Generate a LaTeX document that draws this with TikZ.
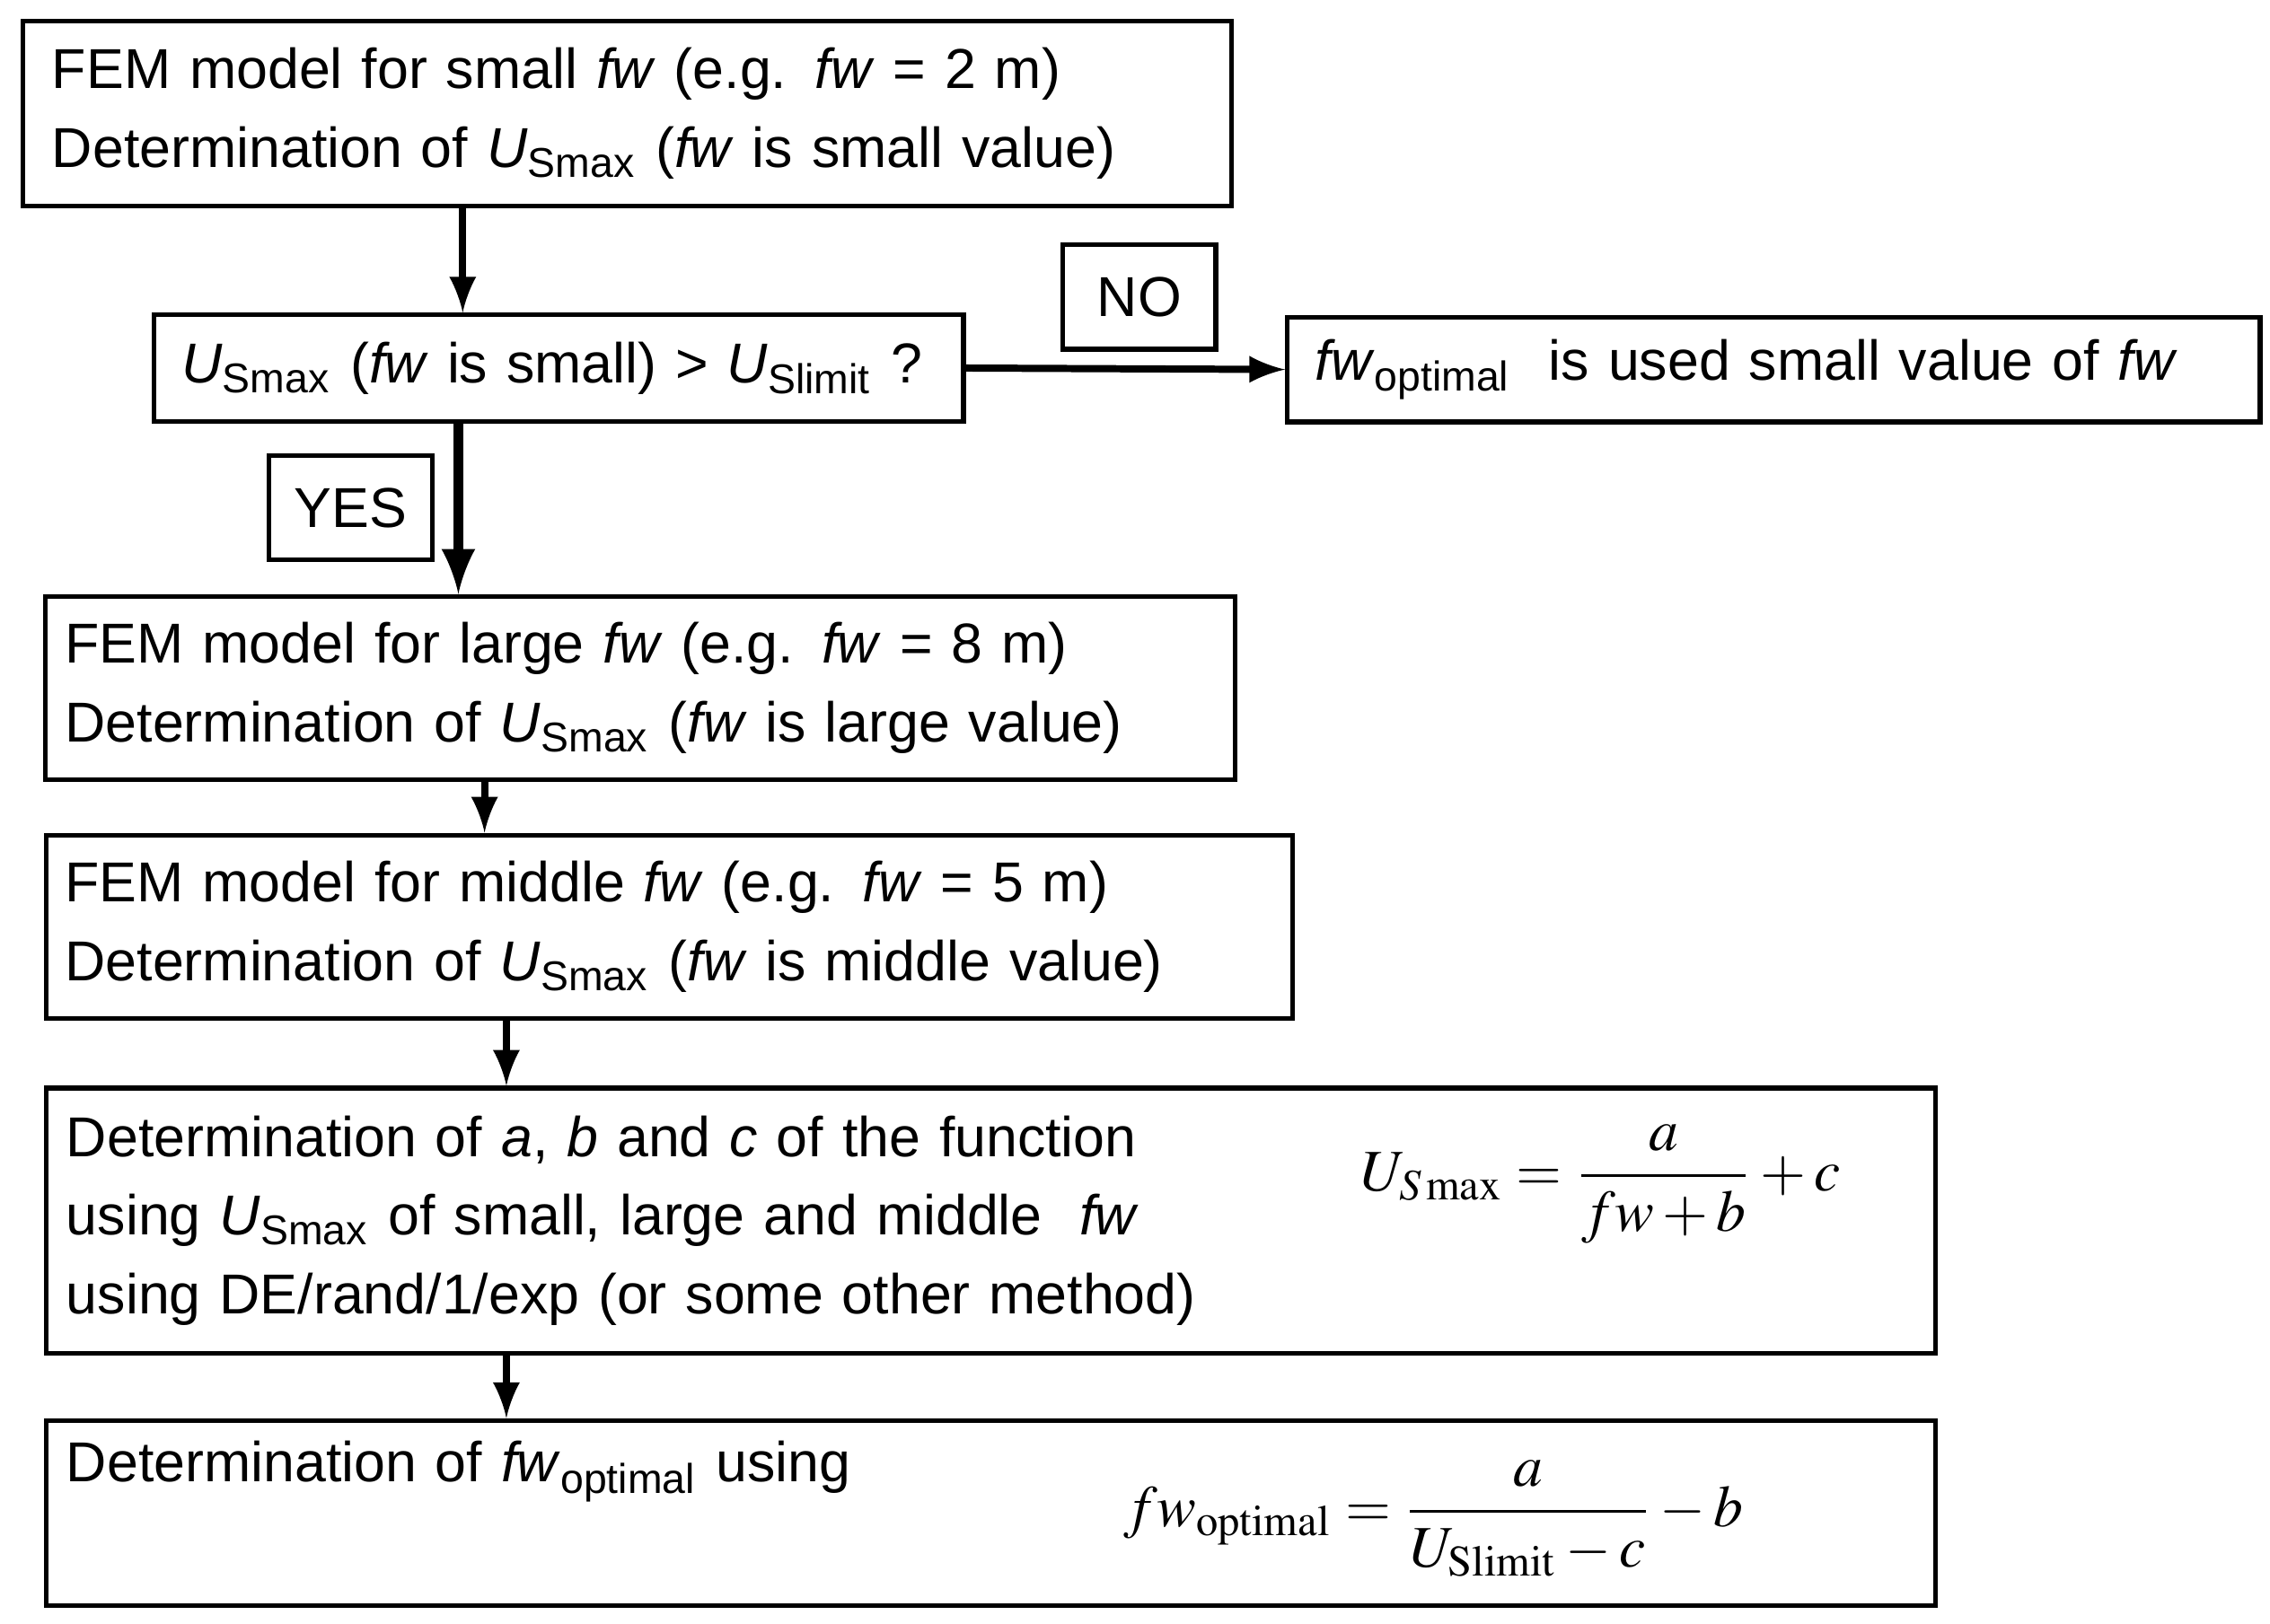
\documentclass[tikz,border=0pt]{standalone}
\usepackage{amsmath}
\usepackage{mathptmx}
\usepackage{fontspec}
\setmainfont{Liberation Sans}
\usetikzlibrary{arrows, positioning}

\newcommand{\fw}{\textit{fw}}
\newcommand{\Us}[1]{\textit{U}\textsubscript{#1}}

\begin{document}
\begin{tikzpicture}[x=0.01cm, y=-0.01cm,
    font=\fontsize{11}{15.4}\selectfont,
    box/.style={draw, line width=0.9pt, inner sep=0pt, align=left},
    tag/.style={draw, line width=0.9pt, inner sep=0pt, minimum width=1.05cm, minimum height=0.72cm},
    flow/.style={-latex, line width=1.4pt}]
  \useasboundingbox (0,0) rectangle (1560,1116);

  % first model
  \node (small) [box, minimum width=8.30cm, minimum height=1.27cm, text width=7.9cm] at (431,78)
    {FEM model for small \fw{} (e.g. \fw{} = 2 m)\\Determination of \Us{Smax} (\fw{} is small value)};

  %%%%%%%%%%%%%%%%%%
  \node (check) [box, minimum width=5.56cm, minimum height=0.73cm, text width=5.18cm] at (384,253)
    {\Us{Smax} (\fw{} is small) {>} \Us{Slimit} ?};
  \node (no) [tag] at (783,204) {NO};
  \node (keep) [box, minimum width=6.68cm, minimum height=0.72cm, text width=6.3cm] at (1219,254)
    {\fw\textsubscript{optimal}\ \ is used small value of \fw};
  \node (yes) [tag, minimum width=1.12cm] at (241,349) {YES};

  %%%%%%%%%%%%%%%%%%
  \node (large) [box, minimum width=8.17cm, minimum height=1.26cm, text width=7.9cm] at (440,473)
    {FEM model for large \fw{} (e.g. \fw{} = 8 m)\\Determination of \Us{Smax} (\fw{} is large value)};

  \node (middle) [box, minimum width=8.56cm, minimum height=1.26cm, text width=8.3cm] at (460,637)
    {FEM model for middle \fw{} (e.g. \fw{} = 5 m)\\Determination of \Us{Smax} (\fw{} is middle value)};

  %%%%%%%%%%%%%%%%%%
  \node (fit) [box, minimum width=12.98cm, minimum height=1.82cm, text width=12.7cm] at (681,839)
    {Determination of \textit{a}, \textit{b} and \textit{c} of the function\\
     using \Us{Smax} of small, large and middle\ \ \fw\\
     using DE/rand/1/exp (or some other method)};
  \node (fiteq) at (1100,814) {\fontsize{11.5}{14}\selectfont
    $U_{S\,\mathrm{max}} = \dfrac{a}{fw+b} + c$};

  \node (optimal) [box, minimum width=12.98cm, minimum height=1.27cm, text width=12.7cm] at (681,1040)
    {Determination of \fw\textsubscript{optimal} using\\\strut};
  \node (opteq) at (985,1044) {\fontsize{11.5}{14}\selectfont
    $fw_{\mathrm{optimal}} = \dfrac{a}{U_{\mathrm{Slimit}} - c} - b$};

  %%%%%%%%%%%%%%%%%%
  \draw [flow] (small.south -| 318,0) to (check.north -| 318,0);
  \draw [flow] (check.east) to (keep.west);
  \draw [flow, line width=2pt] (check.south -| 315,0) to (large.north -| 315,0);
  \draw [flow] (large.south -| 333,0) to (middle.north -| 333,0);
  \draw [flow] (middle.south -| 348,0) to (fit.north -| 348,0);
  \draw [flow] (fit.south -| 348,0) to (optimal.north -| 348,0);
\end{tikzpicture}
\end{document}
